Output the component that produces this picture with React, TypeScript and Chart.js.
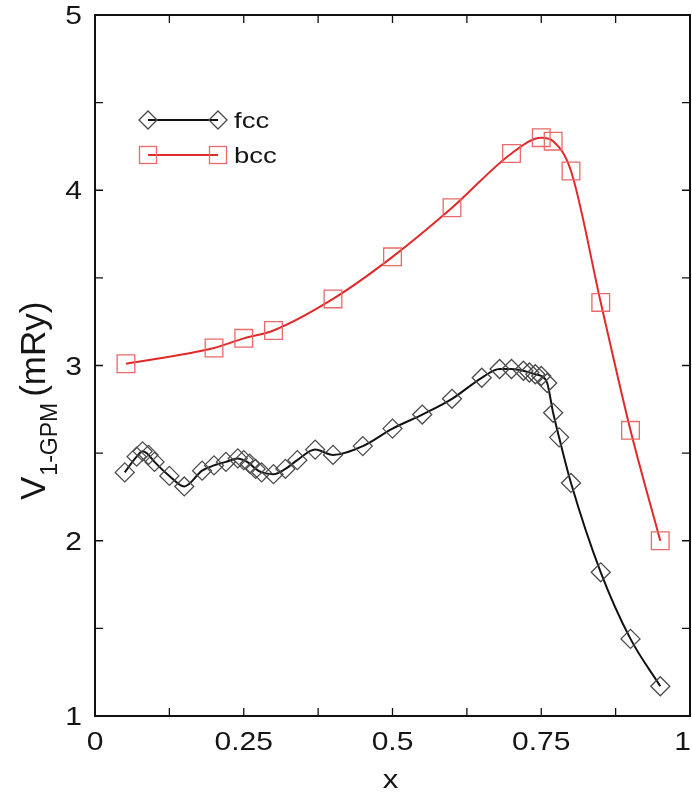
import React, { useEffect, useRef } from 'react';
import { Chart, registerables } from 'chart.js';

Chart.register(...registerables);

const fccX = [0.05, 0.07, 0.08, 0.09, 0.10, 0.125, 0.15, 0.18, 0.20, 0.22, 0.24, 0.25, 0.26, 0.27, 0.28, 0.30, 0.32, 0.34, 0.37, 0.40, 0.45, 0.50, 0.55, 0.60, 0.65, 0.68, 0.70, 0.72, 0.73, 0.74, 0.75, 0.76, 0.77, 0.78, 0.80, 0.85, 0.90, 0.95];
const fccY = [2.39, 2.48, 2.51, 2.49, 2.45, 2.37, 2.31, 2.40, 2.43, 2.45, 2.47, 2.46, 2.44, 2.41, 2.39, 2.38, 2.41, 2.46, 2.52, 2.49, 2.54, 2.64, 2.72, 2.81, 2.93, 2.98, 2.98, 2.97, 2.96, 2.95, 2.94, 2.90, 2.73, 2.59, 2.33, 1.82, 1.44, 1.17];
const bccX = [0.052, 0.2, 0.25, 0.3, 0.4, 0.5, 0.6, 0.7, 0.75, 0.77, 0.8, 0.85, 0.9, 0.95];
const bccY = [3.01, 3.10, 3.155, 3.20, 3.38, 3.62, 3.90, 4.21, 4.30, 4.28, 4.11, 3.36, 2.63, 2.0];
const xTickValues = [0, 0.25, 0.5, 0.75, 1];
const xTickLabels = ['0', '0.25', '0.5', '0.75', '1'];
const yTickValues = [1, 2, 3, 4, 5];
const yTickLabels = ['1', '2', '3', '4', '5'];
const seriesNames = ['fcc', 'bcc'];
const xTitle = 'x';
const yTitleMain = 'V';
const yTitleSub = '1-GPM';
const yTitleUnit = '(mRy)';

const FONT = '"Liberation Sans", Arial, Helvetica, sans-serif';
const TEXT = '#151515';
const FCC_LINE = '#111111';
const FCC_MARK = '#4a4a4a';
const BCC_LINE = '#e02a2a';
const BCC_MARK = '#e86a6a';
const STRETCH = 1.2;

function drawText(
  ctx: CanvasRenderingContext2D,
  text: string,
  x: number,
  y: number,
  size: number,
  align: CanvasTextAlign,
  sx: number,
  maxRight?: number,
) {
  ctx.save();
  ctx.font = `${size}px ${FONT}`;
  let px = x;
  if (maxRight !== undefined && align === 'center') {
    const w = ctx.measureText(text).width * sx;
    if (px + w / 2 > maxRight) px = maxRight - w / 2;
  }
  ctx.translate(px, y);
  ctx.scale(sx, 1);
  ctx.textAlign = align;
  ctx.textBaseline = 'alphabetic';
  ctx.fillText(text, 0, 0);
  ctx.restore();
}

function drawDiamond(ctx: CanvasRenderingContext2D, x: number, y: number, r: number) {
  ctx.beginPath();
  ctx.moveTo(x - r, y);
  ctx.lineTo(x, y - r);
  ctx.lineTo(x + r, y);
  ctx.lineTo(x, y + r);
  ctx.closePath();
  ctx.stroke();
}

function drawSquare(ctx: CanvasRenderingContext2D, x: number, y: number, h: number) {
  ctx.strokeRect(x - h, y - h, 2 * h, 2 * h);
}

const framePlugin = {
  id: 'frameAndExtras',
  afterDraw(chart: any) {
    const { ctx, chartArea: a, scales } = chart;
    const xs = scales.x;
    const ys = scales.y;
    ctx.save();
    // frame
    ctx.strokeStyle = '#111';
    ctx.lineWidth = 2;
    ctx.strokeRect(a.left, a.top, a.right - a.left, a.bottom - a.top);
    // inward ticks
    ctx.lineWidth = 1.3;
    const tl = 8;
    for (let i = 1; i < 8; i++) {
      const px = xs.getPixelForValue(i * 0.125);
      ctx.beginPath();
      ctx.moveTo(px, a.bottom);
      ctx.lineTo(px, a.bottom - tl);
      ctx.moveTo(px, a.top);
      ctx.lineTo(px, a.top + tl);
      ctx.stroke();
    }
    for (let i = 1; i < 8; i++) {
      const py = ys.getPixelForValue(1 + i * 0.5);
      ctx.beginPath();
      ctx.moveTo(a.left, py);
      ctx.lineTo(a.left + tl, py);
      ctx.moveTo(a.right, py);
      ctx.lineTo(a.right - tl, py);
      ctx.stroke();
    }

    ctx.fillStyle = TEXT;
    // x tick labels
    xTickValues.forEach((v, i) => {
      drawText(ctx, xTickLabels[i], xs.getPixelForValue(v), a.bottom + 34, 25, 'center', STRETCH, chart.width - 1);
    });
    // y tick labels
    yTickValues.forEach((v, i) => {
      drawText(ctx, yTickLabels[i], a.left - 13, ys.getPixelForValue(v) + 9, 25, 'right', STRETCH);
    });

    // x title
    drawText(ctx, xTitle, (a.left + a.right) / 2 - 2, 788, 26, 'center', STRETCH);

    // y title (rotated, with subscript)
    ctx.save();
    ctx.translate(45, 500);
    ctx.rotate(-Math.PI / 2);
    ctx.textAlign = 'left';
    ctx.textBaseline = 'alphabetic';
    ctx.font = `35px ${FONT}`;
    ctx.fillText(yTitleMain, 0, 0);
    let off = ctx.measureText(yTitleMain).width + 1;
    ctx.font = `23px ${FONT}`;
    ctx.fillText(yTitleSub, off, 12);
    off += ctx.measureText(yTitleSub).width + 6;
    ctx.font = `35px ${FONT}`;
    ctx.fillText(yTitleUnit, off, 0);
    ctx.restore();

    // legend
    const lx0 = 148;
    const lx1 = 218;
    const ly = [120, 155];
    // fcc
    ctx.strokeStyle = FCC_LINE;
    ctx.lineWidth = 2;
    ctx.beginPath();
    ctx.moveTo(lx0, ly[0]);
    ctx.lineTo(lx1, ly[0]);
    ctx.stroke();
    ctx.strokeStyle = FCC_MARK;
    ctx.lineWidth = 1.3;
    drawDiamond(ctx, lx0, ly[0], 9);
    drawDiamond(ctx, lx1, ly[0], 9);
    ctx.fillStyle = TEXT;
    drawText(ctx, seriesNames[0], 234, ly[0] + 8, 22, 'left', 1.25);
    // bcc
    ctx.strokeStyle = BCC_LINE;
    ctx.lineWidth = 2;
    ctx.beginPath();
    ctx.moveTo(lx0, ly[1]);
    ctx.lineTo(lx1, ly[1]);
    ctx.stroke();
    ctx.strokeStyle = BCC_MARK;
    ctx.lineWidth = 1.3;
    drawSquare(ctx, lx0, ly[1], 8.5);
    drawSquare(ctx, lx1, ly[1], 8.5);
    ctx.fillStyle = TEXT;
    drawText(ctx, seriesNames[1], 234, ly[1] + 8, 22, 'left', 1.25);

    ctx.restore();
  },
};

export default function App() {
  const canvasRef = useRef<HTMLCanvasElement | null>(null);

  useEffect(() => {
    const canvas = canvasRef.current;
    if (!canvas) return;
    const fccData = fccX.map((x, i) => ({ x, y: fccY[i] }));
    const bccData = bccX.map((x, i) => ({ x, y: bccY[i] }));
    const chart = new Chart(canvas, {
      type: 'line',
      data: {
        datasets: [
          {
            label: seriesNames[0],
            data: fccData,
            borderColor: FCC_LINE,
            borderWidth: 2,
            cubicInterpolationMode: 'monotone',
            pointStyle: 'rectRot',
            pointRadius: 9.5,
            pointBorderWidth: 1.3,
            pointBorderColor: FCC_MARK,
            pointBackgroundColor: 'rgba(0,0,0,0)',
            fill: false,
          },
          {
            label: seriesNames[1],
            data: bccData,
            borderColor: BCC_LINE,
            borderWidth: 2,
            cubicInterpolationMode: 'monotone',
            pointStyle: 'rect',
            pointRadius: 12.5,
            pointBorderWidth: 1.3,
            pointBorderColor: BCC_MARK,
            pointBackgroundColor: 'rgba(0,0,0,0)',
            fill: false,
          },
        ],
      },
      options: {
        animation: false,
        responsive: false,
        devicePixelRatio: 1,
        layout: { autoPadding: false, padding: { top: 15, right: 2, left: 0, bottom: 0 } },
        plugins: {
          legend: { display: false },
          tooltip: { enabled: false },
        },
        scales: {
          x: {
            type: 'linear',
            min: 0,
            max: 1,
            grid: { display: false, drawTicks: false },
            border: { display: false },
            ticks: { display: false },
            afterFit: (scale: any) => {
              scale.height = 78;
            },
          },
          y: {
            type: 'linear',
            min: 1,
            max: 5,
            grid: { display: false, drawTicks: false },
            border: { display: false },
            ticks: { display: false },
            afterFit: (scale: any) => {
              scale.width = 95;
            },
          },
        },
      },
      plugins: [framePlugin],
    } as any);
    return () => chart.destroy();
  }, []);

  return (
    <div style={{ position: 'fixed', left: 0, top: 0, width: 692, height: 794, background: '#fff' }}>
      <canvas ref={canvasRef} width={692} height={794} />
    </div>
  );
}
